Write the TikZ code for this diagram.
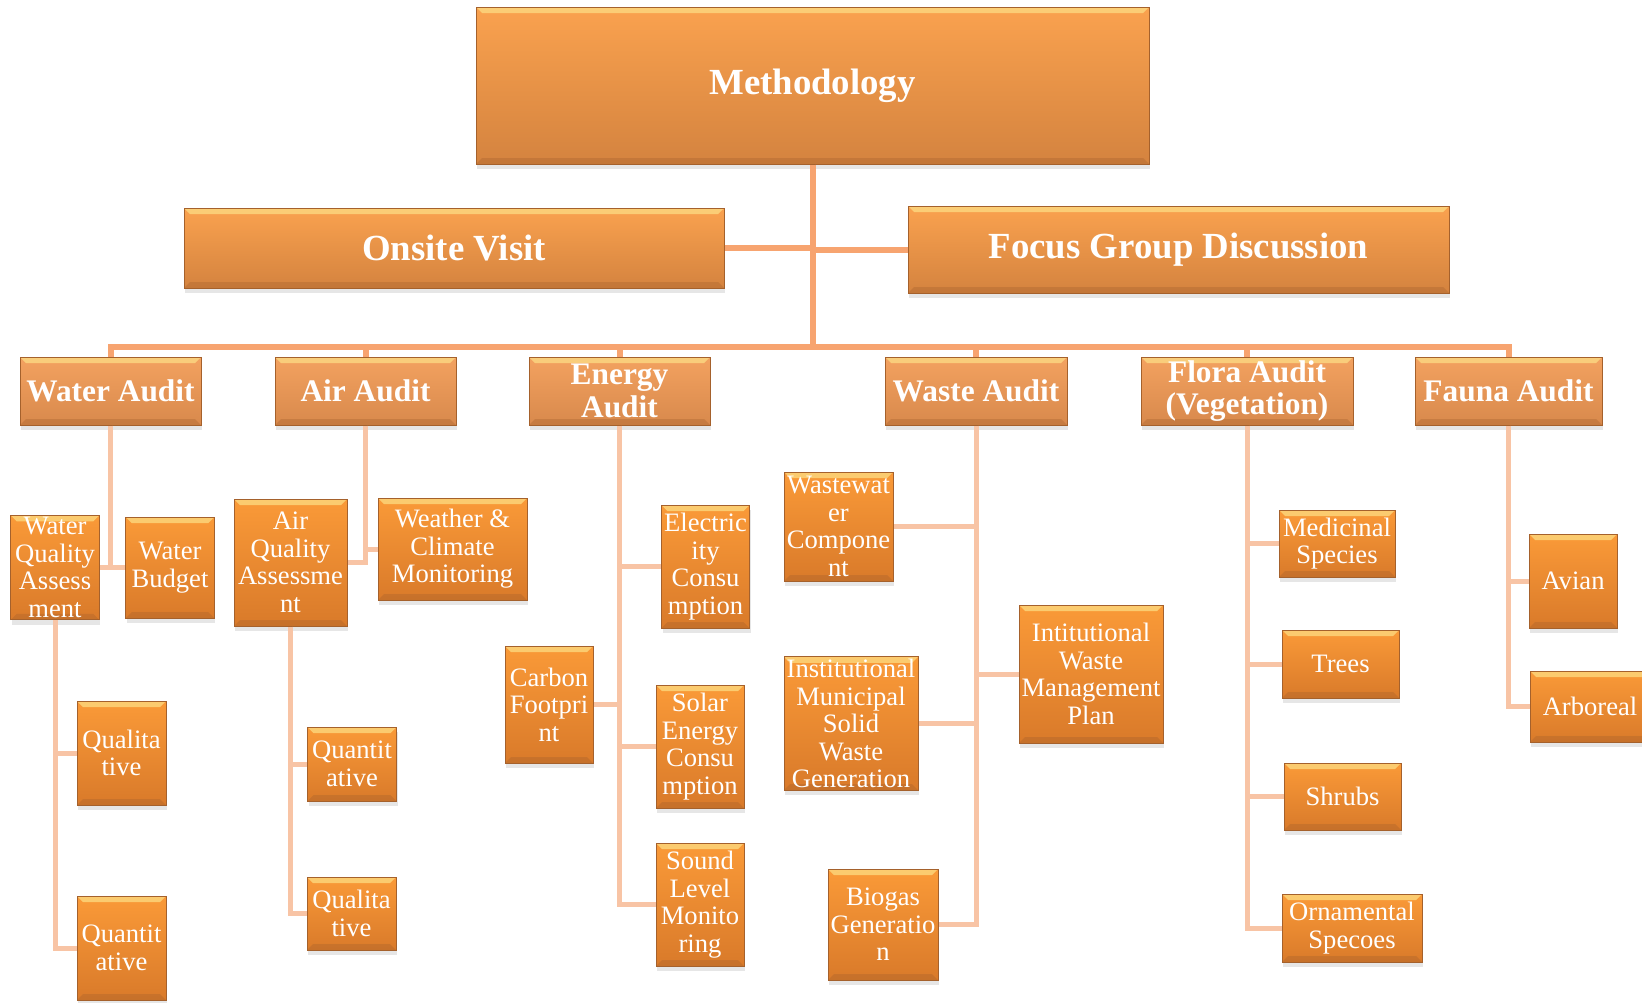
\documentclass[tikz,border=0pt]{standalone}
\usepackage{fontspec}
\setmainfont{Liberation Serif}
\usepackage{tikz}
\usetikzlibrary{positioning, shadows}
\definecolor{topA}{HTML}{FAA24F}
\definecolor{topB}{HTML}{D4833F}
\definecolor{midA}{HTML}{F3A260}
\definecolor{midB}{HTML}{D8894C}
\definecolor{leafA}{HTML}{FA9A38}
\definecolor{leafB}{HTML}{D97A2A}
\definecolor{boxedge}{HTML}{A5612C}
\definecolor{linkA}{HTML}{F7A470}
\definecolor{linkB}{HTML}{F8C4A5}
\newcommand{\bevel}{%
  \fill [yellow!55!orange!45, opacity = 0.7] (path picture bounding box.north west) -- (path picture bounding box.north east)
    -- ([shift={(-3pt,-3pt)}]path picture bounding box.north east) -- ([shift={(3pt,-3pt)}]path picture bounding box.north west) -- cycle;
  \fill [boxedge, opacity = 0.35] (path picture bounding box.south west) -- (path picture bounding box.south east)
    -- ([shift={(-3pt,3pt)}]path picture bounding box.south east) -- ([shift={(3pt,3pt)}]path picture bounding box.south west) -- cycle;
}

\begin{document}
\begin{tikzpicture}[x = 0.5pt, y = -0.5pt,
  box/.style={rectangle, draw = boxedge, line width = 0.5pt, text = white, align = center, inner sep = 1pt,
    drop shadow={shadow xshift = 0.5pt, shadow yshift = -2.5pt, opacity = 0.2}, path picture={\bevel}},
  topbox/.style={box, top color = topA, bottom color = topB, font = \fontsize{18.4}{20}\selectfont\bfseries},
  midbox/.style={box, top color = midA, bottom color = midB, font = \fontsize{15.7}{16.2}\selectfont\bfseries},
  leafbox/.style={box, top color = leafA, bottom color = leafB, font = \fontsize{13.3}{13.8}\selectfont},
  wh/.style 2 args={minimum width = #1*0.5pt, minimum height = #2*0.5pt},
  link/.style={draw = linkA, line width = 3pt},
  sublink/.style={draw = linkB, line width = 2.5pt}]
  \useasboundingbox (0,0) rectangle (1642,1002);

  % nodes
  \node [topbox, wh={673}{157}] (top) at (812.5,85.5) {Methodology};
  \node [topbox, wh={540}{80}] (onsite) at (454,248) {Onsite Visit};
  \node [topbox, wh={541}{87}] (fgd) at (1178.5,249.5) {Focus Group Discussion};

  \node [midbox, wh={181}{68}] (water) at (110.5,391) {Water Audit};
  \node [midbox, wh={181}{68}] (air) at (365.5,391) {Air Audit};
  \node [midbox, wh={181}{68}] (energy) at (619.5,391) {Energy\\Audit};
  \node [midbox, wh={182}{68}] (waste) at (976,391) {Waste Audit};
  \node [midbox, wh={212}{68}] (flora) at (1247,391) {Flora Audit\\(Vegetation)};
  \node [midbox, wh={187}{68}] (fauna) at (1508.5,391) {Fauna Audit};

  \node [leafbox, wh={88.5}{101}] (wqa) at (55,567.5) {Water\\Quality\\Assess\\ment};
  \node [leafbox, wh={88.5}{101}] (budget) at (170,567.5) {Water\\Budget};
  \node [leafbox, wh={89}{104}] (wqual) at (121.5,753) {Qualita\\tive};
  \node [leafbox, wh={89}{104}] (wquant) at (121.5,948) {Quantit\\ative};

  \node [leafbox, wh={113}{127}] (aqa) at (290.5,562.5) {Air\\Quality\\Assessme\\nt};
  \node [leafbox, wh={149}{102}] (weather) at (452.5,549) {Weather \&\\Climate\\Monitoring};
  \node [leafbox, wh={89}{74}] (aquant) at (352,764) {Quantit\\ative};
  \node [leafbox, wh={89}{73}] (aqual) at (351.5,913.5) {Qualita\\tive};

  \node [leafbox, wh={88}{123}] (elec) at (705.5,566.5) {Electric\\ity\\Consu\\mption};
  \node [leafbox, wh={88}{117}] (carbon) at (549,704.5) {Carbon\\Footpri\\nt};
  \node [leafbox, wh={88}{123}] (solar) at (700,746.5) {Solar\\Energy\\Consu\\mption};
  \node [leafbox, wh={88}{123}] (sound) at (700,904.5) {Sound\\Level\\Monito\\ring};

  \node [leafbox, wh={109}{109}] (wastewater) at (838.5,526.5) {Wastewat\\er\\Compone\\nt};
  \node [leafbox, wh={134}{133}] (imsw) at (851,723.5) {Institutional\\Municipal\\Solid\\Waste\\Generation};
  \node [leafbox, wh={144}{138}] (iwmp) at (1091,674) {Intitutional\\Waste\\Management\\Plan};
  \node [leafbox, wh={110}{111}] (biogas) at (883,924.5) {Biogas\\Generatio\\n};

  \node [leafbox, wh={116}{67}] (medicinal) at (1337,543.5) {Medicinal\\Species};
  \node [leafbox, wh={117}{68}] (trees) at (1340.5,664) {Trees};
  \node [leafbox, wh={117}{67}] (shrubs) at (1342.5,796.5) {Shrubs};
  \node [leafbox, wh={140}{68}] (ornamental) at (1352,928) {Ornamental\\Specoes};

  \node [leafbox, wh={88}{94}] (avian) at (1573,581) {Avian};
  \node [leafbox, wh={120}{71}] (arboreal) at (1590,706.5) {Arboreal};

  % edges
  \coordinate (bus) at (812.5,347);
  \draw [link] (top.south) -- (bus);
  \draw [link] (onsite.east) -- (top.south |- onsite.east);
  \draw [link] (fgd.west) -- (top.south |- fgd.west);
  \draw [link] (water.north) |- (bus) -| (fauna.north);
  \foreach \n in {air, energy, waste, flora}
    \draw [link] (\n.north) -- (\n.north |- bus);

  \draw [sublink] (water.south) -- (water.south |- wqa.east);
  \draw [sublink] (wqa.east) -- (budget.west);
  \draw [sublink] (wqa.south) |- (wquant.west);
  \draw [sublink] (wqa.south |- wqual.west) -- (wqual.west);

  \draw [sublink] (air.south) |- (aqa.east);
  \draw [sublink] (air.south |- weather.west) -- (weather.west);
  \draw [sublink] (aqa.south) |- (aqual.west);
  \draw [sublink] (aqa.south |- aquant.west) -- (aquant.west);

  \draw [sublink] (energy.south) |- (sound.west);
  \foreach \n in {elec, solar}
    \draw [sublink] (energy.south |- \n.west) -- (\n.west);
  \draw [sublink] (energy.south |- carbon.east) -- (carbon.east);

  \draw [sublink] (waste.south) |- (biogas.east);
  \foreach \n in {wastewater, imsw}
    \draw [sublink] (waste.south |- \n.east) -- (\n.east);
  \draw [sublink] (waste.south |- iwmp.west) -- (iwmp.west);

  \draw [sublink] (flora.south) |- (ornamental.west);
  \foreach \n in {medicinal, trees, shrubs}
    \draw [sublink] (flora.south |- \n.west) -- (\n.west);

  \draw [sublink] (fauna.south) |- (arboreal.west);
  \draw [sublink] (fauna.south |- avian.west) -- (avian.west);
\end{tikzpicture}
\end{document}
